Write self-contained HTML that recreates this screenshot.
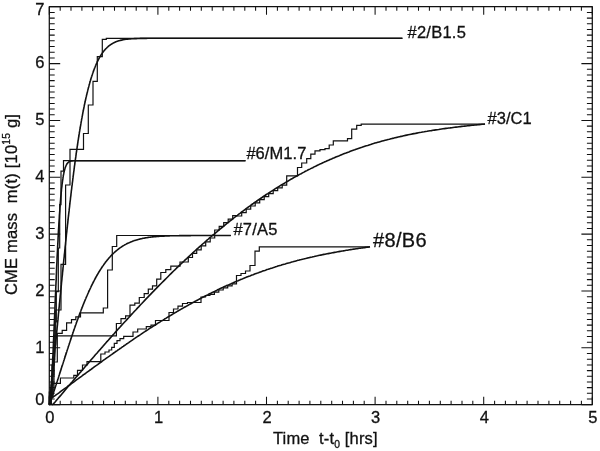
<!DOCTYPE html>
<html lang="en"><head><meta charset="utf-8"><title>CME mass m(t)</title>
<style>html,body{margin:0;padding:0;background:#fff}body{width:600px;height:451px;overflow:hidden}svg{display:block}</style>
</head><body>
<svg width="600" height="451" viewBox="0 0 600 451">
<rect width="600" height="451" fill="#fff"/>
<g fill="none" stroke="#111" stroke-linejoin="miter" stroke-linecap="butt">
<rect x="49.3" y="6.7" width="543" height="398" stroke-width="1.25" stroke-linejoin="round"/>
<path stroke-width="1.05" d="M49.3 404.7 v-8M49.3 6.7 v8M60.2 404.7 v-4M60.2 6.7 v4M71 404.7 v-4M71 6.7 v4M81.9 404.7 v-4M81.9 6.7 v4M92.7 404.7 v-4M92.7 6.7 v4M103.6 404.7 v-4M103.6 6.7 v4M114.5 404.7 v-4M114.5 6.7 v4M125.3 404.7 v-4M125.3 6.7 v4M136.2 404.7 v-4M136.2 6.7 v4M147 404.7 v-4M147 6.7 v4M157.9 404.7 v-8M157.9 6.7 v8M168.8 404.7 v-4M168.8 6.7 v4M179.6 404.7 v-4M179.6 6.7 v4M190.5 404.7 v-4M190.5 6.7 v4M201.3 404.7 v-4M201.3 6.7 v4M212.2 404.7 v-4M212.2 6.7 v4M223.1 404.7 v-4M223.1 6.7 v4M233.9 404.7 v-4M233.9 6.7 v4M244.8 404.7 v-4M244.8 6.7 v4M255.6 404.7 v-4M255.6 6.7 v4M266.5 404.7 v-8M266.5 6.7 v8M277.4 404.7 v-4M277.4 6.7 v4M288.2 404.7 v-4M288.2 6.7 v4M299.1 404.7 v-4M299.1 6.7 v4M309.9 404.7 v-4M309.9 6.7 v4M320.8 404.7 v-4M320.8 6.7 v4M331.7 404.7 v-4M331.7 6.7 v4M342.5 404.7 v-4M342.5 6.7 v4M353.4 404.7 v-4M353.4 6.7 v4M364.2 404.7 v-4M364.2 6.7 v4M375.1 404.7 v-8M375.1 6.7 v8M386 404.7 v-4M386 6.7 v4M396.8 404.7 v-4M396.8 6.7 v4M407.7 404.7 v-4M407.7 6.7 v4M418.5 404.7 v-4M418.5 6.7 v4M429.4 404.7 v-4M429.4 6.7 v4M440.3 404.7 v-4M440.3 6.7 v4M451.1 404.7 v-4M451.1 6.7 v4M462 404.7 v-4M462 6.7 v4M472.8 404.7 v-4M472.8 6.7 v4M483.7 404.7 v-8M483.7 6.7 v8M494.6 404.7 v-4M494.6 6.7 v4M505.4 404.7 v-4M505.4 6.7 v4M516.3 404.7 v-4M516.3 6.7 v4M527.1 404.7 v-4M527.1 6.7 v4M538 404.7 v-4M538 6.7 v4M548.9 404.7 v-4M548.9 6.7 v4M559.7 404.7 v-4M559.7 6.7 v4M570.6 404.7 v-4M570.6 6.7 v4M581.4 404.7 v-4M581.4 6.7 v4M592.3 404.7 v-8M592.3 6.7 v8M49.3 404.7 h10.9M592.3 404.7 h-10.9M49.3 399 h5.4M592.3 399 h-5.4M49.3 393.3 h5.4M592.3 393.3 h-5.4M49.3 387.6 h5.4M592.3 387.6 h-5.4M49.3 382 h5.4M592.3 382 h-5.4M49.3 376.3 h5.4M592.3 376.3 h-5.4M49.3 370.6 h5.4M592.3 370.6 h-5.4M49.3 364.9 h5.4M592.3 364.9 h-5.4M49.3 359.2 h5.4M592.3 359.2 h-5.4M49.3 353.5 h5.4M592.3 353.5 h-5.4M49.3 347.8 h10.9M592.3 347.8 h-10.9M49.3 342.2 h5.4M592.3 342.2 h-5.4M49.3 336.5 h5.4M592.3 336.5 h-5.4M49.3 330.8 h5.4M592.3 330.8 h-5.4M49.3 325.1 h5.4M592.3 325.1 h-5.4M49.3 319.4 h5.4M592.3 319.4 h-5.4M49.3 313.7 h5.4M592.3 313.7 h-5.4M49.3 308 h5.4M592.3 308 h-5.4M49.3 302.4 h5.4M592.3 302.4 h-5.4M49.3 296.7 h5.4M592.3 296.7 h-5.4M49.3 291 h10.9M592.3 291 h-10.9M49.3 285.3 h5.4M592.3 285.3 h-5.4M49.3 279.6 h5.4M592.3 279.6 h-5.4M49.3 273.9 h5.4M592.3 273.9 h-5.4M49.3 268.2 h5.4M592.3 268.2 h-5.4M49.3 262.6 h5.4M592.3 262.6 h-5.4M49.3 256.9 h5.4M592.3 256.9 h-5.4M49.3 251.2 h5.4M592.3 251.2 h-5.4M49.3 245.5 h5.4M592.3 245.5 h-5.4M49.3 239.8 h5.4M592.3 239.8 h-5.4M49.3 234.1 h10.9M592.3 234.1 h-10.9M49.3 228.4 h5.4M592.3 228.4 h-5.4M49.3 222.8 h5.4M592.3 222.8 h-5.4M49.3 217.1 h5.4M592.3 217.1 h-5.4M49.3 211.4 h5.4M592.3 211.4 h-5.4M49.3 205.7 h5.4M592.3 205.7 h-5.4M49.3 200 h5.4M592.3 200 h-5.4M49.3 194.3 h5.4M592.3 194.3 h-5.4M49.3 188.6 h5.4M592.3 188.6 h-5.4M49.3 183 h5.4M592.3 183 h-5.4M49.3 177.3 h10.9M592.3 177.3 h-10.9M49.3 171.6 h5.4M592.3 171.6 h-5.4M49.3 165.9 h5.4M592.3 165.9 h-5.4M49.3 160.2 h5.4M592.3 160.2 h-5.4M49.3 154.5 h5.4M592.3 154.5 h-5.4M49.3 148.8 h5.4M592.3 148.8 h-5.4M49.3 143.2 h5.4M592.3 143.2 h-5.4M49.3 137.5 h5.4M592.3 137.5 h-5.4M49.3 131.8 h5.4M592.3 131.8 h-5.4M49.3 126.1 h5.4M592.3 126.1 h-5.4M49.3 120.4 h10.9M592.3 120.4 h-10.9M49.3 114.7 h5.4M592.3 114.7 h-5.4M49.3 109 h5.4M592.3 109 h-5.4M49.3 103.4 h5.4M592.3 103.4 h-5.4M49.3 97.7 h5.4M592.3 97.7 h-5.4M49.3 92 h5.4M592.3 92 h-5.4M49.3 86.3 h5.4M592.3 86.3 h-5.4M49.3 80.6 h5.4M592.3 80.6 h-5.4M49.3 74.9 h5.4M592.3 74.9 h-5.4M49.3 69.2 h5.4M592.3 69.2 h-5.4M49.3 63.6 h10.9M592.3 63.6 h-10.9M49.3 57.9 h5.4M592.3 57.9 h-5.4M49.3 52.2 h5.4M592.3 52.2 h-5.4M49.3 46.5 h5.4M592.3 46.5 h-5.4M49.3 40.8 h5.4M592.3 40.8 h-5.4M49.3 35.1 h5.4M592.3 35.1 h-5.4M49.3 29.4 h5.4M592.3 29.4 h-5.4M49.3 23.8 h5.4M592.3 23.8 h-5.4M49.3 18.1 h5.4M592.3 18.1 h-5.4M49.3 12.4 h5.4M592.3 12.4 h-5.4M49.3 6.7 h10.9M592.3 6.7 h-10.9"/>
<path stroke-width="1.2" d="M402.4 38.3 L106.3 38.3 L106.3 39.3 L102.3 39.3 L102.3 56.7 L97.3 56.7 L97.3 81.3 L93 81.3 L93 105 L88.3 105 L88.3 133.5 L83.5 133.5 L83.5 149.3 L70 149.3 L70 185 L65.6 185 L65.6 264.4 L61 264.4 L61 310 L55.7 310 L55.7 345 L54 345 L54 375 L52.2 375 L52.2 395 L50.5 395 L50.5 404.7"/>
<path stroke-width="1.2" d="M245.5 160.7 L63.5 160.7 L63.5 171.2 L61 171.2 L61 204.7 L59.7 204.7 L59.7 248 L58.3 248 L58.3 291.7 L56.3 291.7 L56.3 322 L54.8 322 L54.8 360 L53 360 L53 385 L51.2 385 L51.2 404.7"/>
<path stroke-width="1.2" d="M230.8 235.5 L116.7 235.5 L116.7 246.5 L112.3 246.5 L112.3 270 L107.6 270 L107.6 308 L103.3 308 L103.3 312.8 L80.5 312.8 L80.5 316.8 L75.8 316.8 L75.8 319.7 L71.5 319.7 L71.5 322.8 L66.6 322.8 L66.6 330.4 L62.2 330.4 L62.2 333.4 L57.3 333.4 L57.3 362 L54 362 L54 390 L51.3 390 L51.3 404.7"/>
<path stroke-width="1.2" d="M49.3 404.7 L49.3 392 L52 392 L52 365 L54 365 L54 335.8 L116.4 335.8 L116.4 323.5 L121 323.5 L121 318.6 L125.6 318.6 L125.6 315.9 L130 315.9 L130 305.1 L134.8 305.1 L134.8 303.2 L139.3 303.2 L139.3 297.5 L144.2 297.5 L144.2 293.7 L148.3 293.7 L148.3 289.2 L152.5 289.2 L152.5 285.8 L156.7 285.8 L156.7 279.2 L160.8 279.2 L160.8 272.5 L165.8 272.5 L165.8 269.7 L170.8 269.7 L170.8 266.2 L180 266.2 L180 262 L188.3 262 L188.3 257.5 L192.5 257.5 L192.5 253.3 L196.7 253.3 L196.7 250 L196.7 249.9 L201.2 249.9 L201.2 245.9 L205.7 245.9 L205.7 241.9 L210.2 241.9 L210.2 238 L214.7 238 L214.7 230 L219.2 230 L219.2 226.3 L223.7 226.3 L223.7 222.7 L228.2 222.7 L228.2 219.1 L232.7 219.1 L232.7 215.6 L237.2 215.6 L237.2 216 L241.7 216 L241.7 212.6 L246.2 212.6 L246.2 209.2 L250.7 209.2 L250.7 206 L255.2 206 L255.2 202.8 L259.7 202.8 L259.7 199.6 L264.2 199.6 L264.2 196.6 L268.7 196.6 L268.7 193.6 L273.2 193.6 L273.2 190.7 L277.7 190.7 L277.7 187.8 L282.2 187.8 L282.2 185.1 L286.7 185.1 L286.7 175.8 L297.5 175.8 L297.5 167.5 L301.7 167.5 L301.7 163 L306.7 163 L306.7 158.7 L310.8 158.7 L310.8 154.2 L315 154.2 L315 150.8 L320 150.8 L320 149.7 L325 149.7 L325 148.7 L329.2 148.7 L329.2 145 L333.3 145 L333.3 140.8 L347.5 140.8 L347.5 138.7 L351.7 138.7 L351.7 129.2 L356.7 129.2 L356.7 125.3 L361.2 125.3 L361.2 124.2 L485 124.2"/>
<path stroke-width="1.2" d="M49.3 404.7 L49.3 396 L53 396 L53 383.3 L60.4 383.3 L60.4 378 L73.8 378 L73.8 375.4 L77.5 375.4 L77.5 370.4 L82.5 370.4 L82.5 365 L87 365 L87 361.7 L100.8 361.7 L100.8 354 L105 354 L105 352 L109 352 L109 350 L111.7 350 L111.7 347.3 L114.3 347.3 L114.3 343.3 L117 343.3 L117 340.7 L120 340.7 L120 338.7 L123.7 338.7 L123.7 336.3 L133 336.3 L133 332 L137.7 332 L137.7 329 L146.3 329 L146.3 326.7 L151 326.7 L151 325.2 L155.5 325.2 L155.5 320.5 L169 320.5 L169 312.5 L173.5 312.5 L173.5 309 L178 309 L178 306.2 L182.5 306.2 L182.5 303.5 L187.5 303.5 L187.5 302.5 L201 302.5 L201 297 L205.5 297 L205.5 295.5 L209.9 295.5 L209.9 294.3 L214.4 294.3 L214.4 292.1 L218.8 292.1 L218.8 290 L223.2 290 L223.2 287.9 L227.7 287.9 L227.7 285.9 L232.1 285.9 L232.1 283.9 L236.5 283.9 L236.5 282 L236.5 282 L236.5 275.5 L241 275.5 L241 273.5 L245.5 273.5 L245.5 271 L250 271 L250 265.5 L255 265.5 L255 251.2 L259.3 251.2 L259.3 246.9 L370 246.9"/>
<path stroke-width="1.6" stroke-linejoin="round" d="M49.3 404.7 L49.5 403.2 L49.6 401.7 L49.8 400.2 L50 398.7 L50.1 397.2 L50.3 395.7 L50.4 394.2 L50.6 392.6 L50.8 391.1 L50.9 389.5 L51.1 388 L51.3 386.4 L51.4 384.9 L51.6 383.3 L51.7 381.7 L51.9 380.2 L52.1 378.6 L52.2 377 L52.4 375.4 L52.6 373.8 L52.7 372.2 L52.9 370.6 L53.1 369 L53.2 367.4 L53.4 365.8 L53.5 364.1 L53.7 362.5 L53.9 360.9 L54 359.2 L54.2 357.6 L54.4 356 L54.5 354.3 L54.7 352.7 L54.9 351 L55 349.4 L55.2 347.7 L55.3 346.1 L55.5 344.4 L55.7 342.8 L55.8 341.1 L56 339.5 L56.2 337.8 L56.3 336.1 L56.5 334.5 L56.6 332.8 L56.8 331.1 L57 329.5 L57.1 327.8 L57.3 326.1 L57.5 324.4 L57.6 322.8 L57.8 321.1 L58 319.4 L58.1 317.7 L58.3 316.1 L58.4 314.4 L58.6 312.7 L58.8 311.1 L58.9 309.4 L59.1 307.7 L59.3 306 L59.4 304.4 L59.6 302.7 L59.8 301 L59.9 299.4 L60.1 297.7 L60.2 296 L60.4 294.4 L60.6 292.7 L60.7 291 L60.9 289.4 L61.1 287.7 L61.2 286.1 L61.4 284.4 L61.5 282.8 L61.7 281.1 L61.9 279.5 L62 277.8 L62.2 276.2 L62.4 274.6 L62.5 272.9 L62.7 271.3 L62.9 269.7 L63 268 L63.2 266.4 L63.3 264.8 L63.5 263.2 L63.7 261.6 L63.8 260 L64 258.4 L64.2 256.8 L64.3 255.2 L64.5 253.6 L64.7 252 L64.8 250.4 L65 248.8 L65.1 247.2 L65.3 245.7 L65.5 244.1 L65.6 242.5 L65.8 241 L66 239.4 L66.1 237.9 L66.3 236.3 L66.4 234.8 L66.6 233.2 L66.8 231.7 L66.9 230.2 L67.1 228.7 L67.3 227.2 L67.4 225.6 L67.6 224.1 L67.8 222.6 L67.9 221.1 L68.1 219.7 L68.2 218.2 L68.4 216.7 L68.6 215.2 L68.7 213.8 L68.9 212.3 L69.1 210.9 L69.2 209.4 L69.4 208 L69.6 206.5 L69.7 205.1 L69.9 203.7 L70 202.3 L70.2 200.9 L70.4 199.5 L70.5 198.1 L70.7 196.7 L70.9 195.3 L71 193.9 L71.2 192.5 L71.3 191.2 L71.5 189.8 L71.7 188.5 L71.8 187.1 L72 185.8 L72.2 184.4 L72.3 183.1 L72.5 181.8 L72.7 180.5 L72.8 179.2 L73 177.9 L73.1 176.6 L73.3 175.3 L73.5 174 L73.6 172.8 L73.8 171.5 L74 170.3 L74.1 169 L74.3 167.8 L74.4 166.5 L74.6 165.3 L74.8 164.1 L74.9 162.9 L75.1 161.7 L75.3 160.5 L75.4 159.3 L75.6 158.1 L75.8 156.9 L75.9 155.8 L76.1 154.6 L76.2 153.4 L76.4 152.3 L76.6 151.2 L76.7 150 L76.9 148.9 L77.1 147.8 L77.2 146.7 L77.4 145.6 L77.6 144.5 L77.7 143.4 L77.9 142.3 L78 141.2 L78.2 140.2 L78.4 139.1 L78.5 138.1 L78.7 137 L78.9 136 L79 135 L79.2 133.9 L79.3 132.9 L79.5 131.9 L79.7 130.9 L79.8 129.9 L80 129 L80.2 128 L80.3 127 L80.5 126 L80.7 125.1 L80.8 124.1 L81 123.2 L81.1 122.3 L81.3 121.3 L81.5 120.4 L81.6 119.5 L81.8 118.6 L82 117.7 L82.1 116.8 L82.3 115.9 L82.5 115.1 L82.6 114.2 L82.8 113.3 L82.9 112.5 L83.1 111.6 L83.3 110.8 L83.4 110 L83.6 109.1 L83.8 108.3 L83.9 107.5 L84.1 106.7 L84.2 105.9 L84.4 105.1 L84.6 104.3 L84.7 103.6 L84.9 102.8 L85.1 102 L85.2 101.3 L85.4 100.5 L85.6 99.8 L85.7 99 L85.9 98.3 L86 97.6 L86.2 96.9 L86.4 96.2 L86.5 95.5 L86.7 94.8 L86.9 94.1 L87 93.4 L87.2 92.7 L87.4 92 L87.5 91.4 L87.7 90.7 L87.8 90.1 L88 89.4 L88.2 88.8 L88.3 88.1 L88.5 87.5 L88.7 86.9 L88.8 86.3 L89 85.7 L89.1 85.1 L89.3 84.5 L89.5 83.9 L89.6 83.3 L89.8 82.7 L90 82.1 L90.1 81.6 L90.3 81 L90.5 80.5 L90.6 79.9 L90.8 79.4 L90.9 78.8 L91.1 78.3 L91.3 77.8 L91.4 77.2 L91.6 76.7 L91.8 76.2 L91.9 75.7 L92.1 75.2 L92.3 74.7 L92.4 74.2 L92.6 73.7 L92.7 73.3 L92.9 72.8 L93.1 72.3 L93.2 71.9 L93.4 71.4 L93.6 70.9 L93.7 70.5 L93.9 70.1 L94 69.6 L94.2 69.2 L94.4 68.8 L94.5 68.3 L94.7 67.9 L94.9 67.5 L95 67.1 L95.2 66.7 L95.4 66.3 L95.5 65.9 L95.7 65.5 L95.8 65.1 L96 64.7 L96.2 64.4 L96.3 64 L96.5 63.6 L96.7 63.2 L96.8 62.9 L97 62.5 L97.1 62.2 L97.3 61.8 L97.5 61.5 L97.6 61.2 L97.8 60.8 L98 60.5 L98.1 60.2 L98.3 59.8 L98.5 59.5 L98.6 59.2 L98.8 58.9 L98.9 58.6 L99.1 58.3 L99.3 58 L99.4 57.7 L99.6 57.4 L99.8 57.1 L99.9 56.8 L100.1 56.6 L100.3 56.3 L100.4 56 L100.6 55.7 L100.7 55.5 L100.9 55.2 L101.1 55 L101.2 54.7 L101.4 54.4 L101.6 54.2 L101.7 54 L101.9 53.7 L102 53.5 L102.2 53.2 L102.4 53 L102.5 52.8 L102.7 52.5 L102.9 52.3 L103 52.1 L103.2 51.9 L103.4 51.7 L103.5 51.5 L103.7 51.2 L103.8 51 L104 50.8 L104.2 50.6 L104.3 50.4 L104.5 50.2 L104.7 50.1 L104.8 49.9 L105 49.7 L105.2 49.5 L105.3 49.3 L105.5 49.1 L105.6 49 L105.8 48.8 L106 48.6 L106.1 48.4 L106.3 48.3 L106.5 48.1 L106.6 47.9 L106.8 47.8 L106.9 47.6 L107.1 47.5 L107.3 47.3 L107.4 47.2 L107.6 47 L107.8 46.9 L107.9 46.7 L108.1 46.6 L108.3 46.4 L108.4 46.3 L108.6 46.2 L108.7 46 L108.9 45.9 L109.1 45.8 L109.2 45.7 L109.4 45.5 L109.6 45.4 L109.7 45.3 L109.9 45.2 L110.1 45 L110.2 44.9 L110.4 44.8 L110.5 44.7 L110.7 44.6 L110.9 44.5 L111 44.4 L111.2 44.3 L111.4 44.2 L111.5 44.1 L111.7 44 L111.8 43.9 L112 43.8 L112.2 43.7 L112.3 43.6 L112.5 43.5 L112.7 43.4 L112.8 43.3 L113 43.2 L113.2 43.1 L113.3 43 L113.5 42.9 L113.6 42.9 L113.8 42.8 L114 42.7 L114.1 42.6 L114.3 42.5 L114.5 42.5 L115.9 41.8 L117.4 41.3 L118.8 40.8 L120.2 40.4 L121.7 40.1 L123.1 39.8 L124.6 39.5 L126 39.3 L127.5 39.2 L128.9 39 L130.4 38.9 L131.8 38.8 L133.3 38.7 L134.7 38.6 L136.2 38.6 L137.6 38.5 L139.1 38.5 L140.5 38.4 L142 38.4 L143.4 38.4 L144.8 38.4 L146.3 38.4 L147.7 38.3 L149.2 38.3 L150.6 38.3 L152.1 38.3 L153.5 38.3 L155 38.3 L156.4 38.3 L157.9 38.3 L159.3 38.3 L160.8 38.3 L162.2 38.3 L163.7 38.3 L165.1 38.3 L166.5 38.3 L168 38.3 L169.4 38.3 L170.9 38.3 L172.3 38.3 L173.8 38.3 L175.2 38.3 L176.7 38.3 L178.1 38.3 L179.6 38.3 L181 38.3 L182.5 38.3 L183.9 38.3 L185.4 38.3 L186.8 38.3 L188.3 38.3 L189.7 38.3 L191.1 38.3 L192.6 38.3 L194 38.3 L195.5 38.3 L196.9 38.3 L198.4 38.3 L199.8 38.3 L201.3 38.3 L202.7 38.3 L204.2 38.3 L205.6 38.3 L207.1 38.3 L208.5 38.3 L210 38.3 L211.4 38.3 L212.9 38.3 L214.3 38.3 L215.7 38.3 L217.2 38.3 L218.6 38.3 L220.1 38.3 L221.5 38.3 L223 38.3 L224.4 38.3 L225.9 38.3 L227.3 38.3 L228.8 38.3 L230.2 38.3 L231.7 38.3 L233.1 38.3 L234.6 38.3 L236 38.3 L237.4 38.3 L238.9 38.3 L240.3 38.3 L241.8 38.3 L243.2 38.3 L244.7 38.3 L246.1 38.3 L247.6 38.3 L249 38.3 L250.5 38.3 L251.9 38.3 L253.4 38.3 L254.8 38.3 L256.3 38.3 L257.7 38.3 L259.2 38.3 L260.6 38.3 L262 38.3 L263.5 38.3 L264.9 38.3 L266.4 38.3 L267.8 38.3 L269.3 38.3 L270.7 38.3 L272.2 38.3 L273.6 38.3 L275.1 38.3 L276.5 38.3 L278 38.3 L279.4 38.3 L280.9 38.3 L282.3 38.3 L283.8 38.3 L285.2 38.3 L286.6 38.3 L288.1 38.3 L289.5 38.3 L291 38.3 L292.4 38.3 L293.9 38.3 L295.3 38.3 L296.8 38.3 L298.2 38.3 L299.7 38.3 L301.1 38.3 L302.6 38.3 L304 38.3 L305.5 38.3 L306.9 38.3 L308.3 38.3 L309.8 38.3 L311.2 38.3 L312.7 38.3 L314.1 38.3 L315.6 38.3 L317 38.3 L318.5 38.3 L319.9 38.3 L321.4 38.3 L322.8 38.3 L324.3 38.3 L325.7 38.3 L327.2 38.3 L328.6 38.3 L330.1 38.3 L331.5 38.3 L332.9 38.3 L334.4 38.3 L335.8 38.3 L337.3 38.3 L338.7 38.3 L340.2 38.3 L341.6 38.3 L343.1 38.3 L344.5 38.3 L346 38.3 L347.4 38.3 L348.9 38.3 L350.3 38.3 L351.8 38.3 L353.2 38.3 L354.7 38.3 L356.1 38.3 L357.5 38.3 L359 38.3 L360.4 38.3 L361.9 38.3 L363.3 38.3 L364.8 38.3 L366.2 38.3 L367.7 38.3 L369.1 38.3 L370.6 38.3 L372 38.3 L373.5 38.3 L374.9 38.3 L376.4 38.3 L377.8 38.3 L379.2 38.3 L380.7 38.3 L382.1 38.3 L383.6 38.3 L385 38.3 L386.5 38.3 L387.9 38.3 L389.4 38.3 L390.8 38.3 L392.3 38.3 L393.7 38.3 L395.2 38.3 L396.6 38.3 L398.1 38.3 L399.5 38.3 L401 38.3 L402.4 38.3"/>
<path stroke-width="1.6" stroke-linejoin="round" d="M49.3 404.7 L49.5 404.7 L49.6 404.2 L49.8 403.1 L50 401.8 L50.1 400.4 L50.3 398.8 L50.4 397.1 L50.6 395.2 L50.8 393.2 L50.9 391.1 L51.1 388.8 L51.3 386.3 L51.4 383.8 L51.6 381.1 L51.7 378.3 L51.9 375.4 L52.1 372.4 L52.2 369.2 L52.4 366 L52.6 362.7 L52.7 359.3 L52.9 355.9 L53.1 352.3 L53.2 348.7 L53.4 345 L53.5 341.3 L53.7 337.5 L53.9 333.7 L54 329.9 L54.2 326 L54.4 322.1 L54.5 318.2 L54.7 314.3 L54.9 310.4 L55 306.4 L55.2 302.5 L55.3 298.6 L55.5 294.7 L55.7 290.8 L55.8 287 L56 283.1 L56.2 279.4 L56.3 275.6 L56.5 271.9 L56.6 268.2 L56.8 264.6 L57 261.1 L57.1 257.5 L57.3 254.1 L57.5 250.7 L57.6 247.4 L57.8 244.1 L58 240.9 L58.1 237.8 L58.3 234.8 L58.4 231.8 L58.6 228.9 L58.8 226 L58.9 223.3 L59.1 220.6 L59.3 218 L59.4 215.4 L59.6 213 L59.8 210.6 L59.9 208.3 L60.1 206.1 L60.2 203.9 L60.4 201.8 L60.6 199.8 L60.7 197.9 L60.9 196 L61.1 194.2 L61.2 192.5 L61.4 190.8 L61.5 189.2 L61.7 187.7 L61.9 186.3 L62 184.9 L62.2 183.5 L62.4 182.2 L62.5 181 L62.7 179.9 L62.9 178.7 L63 177.7 L63.2 176.7 L63.3 175.7 L63.5 174.8 L63.7 173.9 L63.8 173.1 L64 172.3 L64.2 171.6 L64.3 170.9 L64.5 170.3 L64.7 169.6 L64.8 169 L65 168.5 L65.1 168 L65.3 167.5 L65.5 167 L65.6 166.6 L65.8 166.2 L66 165.8 L66.1 165.4 L66.3 165.1 L66.4 164.8 L66.6 164.5 L66.8 164.2 L66.9 163.9 L67.1 163.7 L67.3 163.5 L67.4 163.3 L67.6 163.1 L67.8 162.9 L67.9 162.7 L68.1 162.6 L68.2 162.4 L68.4 162.3 L68.6 162.1 L68.7 162 L68.9 161.9 L69.1 161.8 L69.2 161.7 L69.4 161.6 L69.6 161.6 L69.7 161.5 L69.9 161.4 L70 161.4 L70.2 161.3 L70.4 161.2 L70.5 161.2 L70.7 161.2 L70.9 161.1 L71 161.1 L71.2 161 L71.3 161 L71.5 161 L71.7 161 L71.8 160.9 L72 160.9 L72.2 160.9 L72.3 160.9 L72.5 160.9 L72.7 160.8 L72.8 160.8 L73 160.8 L73.1 160.8 L73.3 160.8 L73.5 160.8 L73.6 160.8 L73.8 160.8 L74 160.8 L74.1 160.8 L74.3 160.7 L74.4 160.7 L74.6 160.7 L74.8 160.7 L74.9 160.7 L75.1 160.7 L75.3 160.7 L75.4 160.7 L75.6 160.7 L75.8 160.7 L75.9 160.7 L76.1 160.7 L76.2 160.7 L76.4 160.7 L76.6 160.7 L76.7 160.7 L76.9 160.7 L77.1 160.7 L77.2 160.7 L77.4 160.7 L77.6 160.7 L77.7 160.7 L77.9 160.7 L78 160.7 L78.2 160.7 L78.4 160.7 L78.5 160.7 L78.7 160.7 L78.9 160.7 L79 160.7 L79.2 160.7 L79.3 160.7 L79.5 160.7 L79.7 160.7 L79.8 160.7 L80 160.7 L80.2 160.7 L80.3 160.7 L80.5 160.7 L80.7 160.7 L80.8 160.7 L81 160.7 L81.1 160.7 L81.3 160.7 L81.5 160.7 L81.6 160.7 L81.8 160.7 L82 160.7 L82.1 160.7 L82.3 160.7 L82.5 160.7 L82.6 160.7 L82.8 160.7 L82.9 160.7 L83.1 160.7 L83.3 160.7 L83.4 160.7 L83.6 160.7 L83.8 160.7 L83.9 160.7 L84.1 160.7 L84.2 160.7 L84.4 160.7 L84.6 160.7 L84.7 160.7 L84.9 160.7 L85.1 160.7 L85.2 160.7 L85.4 160.7 L85.6 160.7 L85.7 160.7 L85.9 160.7 L86 160.7 L86.2 160.7 L86.4 160.7 L86.5 160.7 L86.7 160.7 L86.9 160.7 L87 160.7 L87.2 160.7 L87.4 160.7 L87.5 160.7 L87.7 160.7 L87.8 160.7 L88 160.7 L88.2 160.7 L88.3 160.7 L88.5 160.7 L88.7 160.7 L88.8 160.7 L89 160.7 L89.1 160.7 L89.3 160.7 L89.5 160.7 L89.6 160.7 L89.8 160.7 L90 160.7 L90.1 160.7 L90.3 160.7 L90.5 160.7 L90.6 160.7 L90.8 160.7 L90.9 160.7 L91.1 160.7 L91.3 160.7 L91.4 160.7 L91.6 160.7 L91.8 160.7 L91.9 160.7 L92.1 160.7 L92.3 160.7 L92.4 160.7 L92.6 160.7 L92.7 160.7 L92.9 160.7 L93.1 160.7 L93.2 160.7 L93.4 160.7 L93.6 160.7 L93.7 160.7 L93.9 160.7 L94 160.7 L94.2 160.7 L94.4 160.7 L94.5 160.7 L94.7 160.7 L94.9 160.7 L95 160.7 L95.2 160.7 L95.4 160.7 L95.5 160.7 L95.7 160.7 L95.8 160.7 L96 160.7 L96.2 160.7 L96.3 160.7 L96.5 160.7 L96.7 160.7 L96.8 160.7 L97 160.7 L97.1 160.7 L97.3 160.7 L97.5 160.7 L97.6 160.7 L97.8 160.7 L98 160.7 L98.1 160.7 L98.3 160.7 L98.5 160.7 L98.6 160.7 L98.8 160.7 L98.9 160.7 L99.1 160.7 L99.3 160.7 L99.4 160.7 L99.6 160.7 L99.8 160.7 L99.9 160.7 L100.1 160.7 L100.3 160.7 L100.4 160.7 L100.6 160.7 L100.7 160.7 L100.9 160.7 L101.1 160.7 L101.2 160.7 L101.4 160.7 L101.6 160.7 L101.7 160.7 L101.9 160.7 L102 160.7 L102.2 160.7 L102.4 160.7 L102.5 160.7 L102.7 160.7 L102.9 160.7 L103 160.7 L103.2 160.7 L103.4 160.7 L103.5 160.7 L103.7 160.7 L103.8 160.7 L104 160.7 L104.2 160.7 L104.3 160.7 L104.5 160.7 L104.7 160.7 L104.8 160.7 L105 160.7 L105.2 160.7 L105.3 160.7 L105.5 160.7 L105.6 160.7 L105.8 160.7 L106 160.7 L106.1 160.7 L106.3 160.7 L106.5 160.7 L106.6 160.7 L106.8 160.7 L106.9 160.7 L107.1 160.7 L107.3 160.7 L107.4 160.7 L107.6 160.7 L107.8 160.7 L107.9 160.7 L108.1 160.7 L108.3 160.7 L108.4 160.7 L108.6 160.7 L108.7 160.7 L108.9 160.7 L109.1 160.7 L109.2 160.7 L109.4 160.7 L109.6 160.7 L109.7 160.7 L109.9 160.7 L110.1 160.7 L110.2 160.7 L110.4 160.7 L110.5 160.7 L110.7 160.7 L110.9 160.7 L111 160.7 L111.2 160.7 L111.4 160.7 L111.5 160.7 L111.7 160.7 L111.8 160.7 L112 160.7 L112.2 160.7 L112.3 160.7 L112.5 160.7 L112.7 160.7 L112.8 160.7 L113 160.7 L113.2 160.7 L113.3 160.7 L113.5 160.7 L113.6 160.7 L113.8 160.7 L114 160.7 L114.1 160.7 L114.3 160.7 L114.5 160.7 L115.1 160.7 L115.8 160.7 L116.4 160.7 L117.1 160.7 L117.8 160.7 L118.4 160.7 L119.1 160.7 L119.7 160.7 L120.4 160.7 L121 160.7 L121.7 160.7 L122.4 160.7 L123 160.7 L123.7 160.7 L124.3 160.7 L125 160.7 L125.7 160.7 L126.3 160.7 L127 160.7 L127.6 160.7 L128.3 160.7 L128.9 160.7 L129.6 160.7 L130.3 160.7 L130.9 160.7 L131.6 160.7 L132.2 160.7 L132.9 160.7 L133.6 160.7 L134.2 160.7 L134.9 160.7 L135.5 160.7 L136.2 160.7 L136.8 160.7 L137.5 160.7 L138.2 160.7 L138.8 160.7 L139.5 160.7 L140.1 160.7 L140.8 160.7 L141.5 160.7 L142.1 160.7 L142.8 160.7 L143.4 160.7 L144.1 160.7 L144.8 160.7 L145.4 160.7 L146.1 160.7 L146.7 160.7 L147.4 160.7 L148 160.7 L148.7 160.7 L149.4 160.7 L150 160.7 L150.7 160.7 L151.3 160.7 L152 160.7 L152.7 160.7 L153.3 160.7 L154 160.7 L154.6 160.7 L155.3 160.7 L155.9 160.7 L156.6 160.7 L157.3 160.7 L157.9 160.7 L158.6 160.7 L159.2 160.7 L159.9 160.7 L160.6 160.7 L161.2 160.7 L161.9 160.7 L162.5 160.7 L163.2 160.7 L163.8 160.7 L164.5 160.7 L165.2 160.7 L165.8 160.7 L166.5 160.7 L167.1 160.7 L167.8 160.7 L168.5 160.7 L169.1 160.7 L169.8 160.7 L170.4 160.7 L171.1 160.7 L171.7 160.7 L172.4 160.7 L173.1 160.7 L173.7 160.7 L174.4 160.7 L175 160.7 L175.7 160.7 L176.4 160.7 L177 160.7 L177.7 160.7 L178.3 160.7 L179 160.7 L179.7 160.7 L180.3 160.7 L181 160.7 L181.6 160.7 L182.3 160.7 L182.9 160.7 L183.6 160.7 L184.3 160.7 L184.9 160.7 L185.6 160.7 L186.2 160.7 L186.9 160.7 L187.6 160.7 L188.2 160.7 L188.9 160.7 L189.5 160.7 L190.2 160.7 L190.8 160.7 L191.5 160.7 L192.2 160.7 L192.8 160.7 L193.5 160.7 L194.1 160.7 L194.8 160.7 L195.5 160.7 L196.1 160.7 L196.8 160.7 L197.4 160.7 L198.1 160.7 L198.7 160.7 L199.4 160.7 L200.1 160.7 L200.7 160.7 L201.4 160.7 L202 160.7 L202.7 160.7 L203.4 160.7 L204 160.7 L204.7 160.7 L205.3 160.7 L206 160.7 L206.6 160.7 L207.3 160.7 L208 160.7 L208.6 160.7 L209.3 160.7 L209.9 160.7 L210.6 160.7 L211.3 160.7 L211.9 160.7 L212.6 160.7 L213.2 160.7 L213.9 160.7 L214.6 160.7 L215.2 160.7 L215.9 160.7 L216.5 160.7 L217.2 160.7 L217.8 160.7 L218.5 160.7 L219.2 160.7 L219.8 160.7 L220.5 160.7 L221.1 160.7 L221.8 160.7 L222.5 160.7 L223.1 160.7 L223.8 160.7 L224.4 160.7 L225.1 160.7 L225.7 160.7 L226.4 160.7 L227.1 160.7 L227.7 160.7 L228.4 160.7 L229 160.7 L229.7 160.7 L230.4 160.7 L231 160.7 L231.7 160.7 L232.3 160.7 L233 160.7 L233.6 160.7 L234.3 160.7 L235 160.7 L235.6 160.7 L236.3 160.7 L236.9 160.7 L237.6 160.7 L238.3 160.7 L238.9 160.7 L239.6 160.7 L240.2 160.7 L240.9 160.7 L241.5 160.7 L242.2 160.7 L242.9 160.7 L243.5 160.7 L244.2 160.7 L244.8 160.7 L245.5 160.7"/>
<path stroke-width="1.6" stroke-linejoin="round" d="M49.3 404.7 L49.5 404.2 L49.6 403.8 L49.8 403.3 L50 402.9 L50.1 402.4 L50.3 401.9 L50.4 401.5 L50.6 401 L50.8 400.5 L50.9 400.1 L51.1 399.6 L51.3 399.1 L51.4 398.7 L51.6 398.2 L51.7 397.7 L51.9 397.2 L52.1 396.8 L52.2 396.3 L52.4 395.8 L52.6 395.3 L52.7 394.8 L52.9 394.4 L53.1 393.9 L53.2 393.4 L53.4 392.9 L53.5 392.4 L53.7 391.9 L53.9 391.4 L54 391 L54.2 390.5 L54.4 390 L54.5 389.5 L54.7 389 L54.9 388.5 L55 388 L55.2 387.5 L55.3 387 L55.5 386.5 L55.7 386 L55.8 385.5 L56 385 L56.2 384.5 L56.3 384 L56.5 383.5 L56.6 383 L56.8 382.5 L57 382 L57.1 381.5 L57.3 381 L57.5 380.5 L57.6 380 L57.8 379.5 L58 379 L58.1 378.5 L58.3 378 L58.4 377.5 L58.6 377 L58.8 376.5 L58.9 376 L59.1 375.5 L59.3 375 L59.4 374.4 L59.6 373.9 L59.8 373.4 L59.9 372.9 L60.1 372.4 L60.2 371.9 L60.4 371.4 L60.6 370.9 L60.7 370.4 L60.9 369.9 L61.1 369.4 L61.2 368.8 L61.4 368.3 L61.5 367.8 L61.7 367.3 L61.9 366.8 L62 366.3 L62.2 365.8 L62.4 365.3 L62.5 364.8 L62.7 364.3 L62.9 363.7 L63 363.2 L63.2 362.7 L63.3 362.2 L63.5 361.7 L63.7 361.2 L63.8 360.7 L64 360.2 L64.2 359.7 L64.3 359.2 L64.5 358.6 L64.7 358.1 L64.8 357.6 L65 357.1 L65.1 356.6 L65.3 356.1 L65.5 355.6 L65.6 355.1 L65.8 354.6 L66 354.1 L66.1 353.6 L66.3 353.1 L66.4 352.6 L66.6 352.1 L66.8 351.5 L66.9 351 L67.1 350.5 L67.3 350 L67.4 349.5 L67.6 349 L67.8 348.5 L67.9 348 L68.1 347.5 L68.2 347 L68.4 346.5 L68.6 346 L68.7 345.5 L68.9 345 L69.1 344.5 L69.2 344 L69.4 343.5 L69.6 343 L69.7 342.5 L69.9 342 L70 341.5 L70.2 341.1 L70.4 340.6 L70.5 340.1 L70.7 339.6 L70.9 339.1 L71 338.6 L71.2 338.1 L71.3 337.6 L71.5 337.1 L71.7 336.6 L71.8 336.2 L72 335.7 L72.2 335.2 L72.3 334.7 L72.5 334.2 L72.7 333.7 L72.8 333.3 L73 332.8 L73.1 332.3 L73.3 331.8 L73.5 331.3 L73.6 330.9 L73.8 330.4 L74 329.9 L74.1 329.4 L74.3 329 L74.4 328.5 L74.6 328 L74.8 327.5 L74.9 327.1 L75.1 326.6 L75.3 326.1 L75.4 325.7 L75.6 325.2 L75.8 324.7 L75.9 324.3 L76.1 323.8 L76.2 323.4 L76.4 322.9 L76.6 322.4 L76.7 322 L76.9 321.5 L77.1 321.1 L77.2 320.6 L77.4 320.2 L77.6 319.7 L77.7 319.3 L77.9 318.8 L78 318.4 L78.2 317.9 L78.4 317.5 L78.5 317 L78.7 316.6 L78.9 316.1 L79 315.7 L79.2 315.2 L79.3 314.8 L79.5 314.4 L79.7 313.9 L79.8 313.5 L80 313.1 L80.2 312.6 L80.3 312.2 L80.5 311.8 L80.7 311.3 L80.8 310.9 L81 310.5 L81.1 310 L81.3 309.6 L81.5 309.2 L81.6 308.8 L81.8 308.4 L82 307.9 L82.1 307.5 L82.3 307.1 L82.5 306.7 L82.6 306.3 L82.8 305.9 L82.9 305.4 L83.1 305 L83.3 304.6 L83.4 304.2 L83.6 303.8 L83.8 303.4 L83.9 303 L84.1 302.6 L84.2 302.2 L84.4 301.8 L84.6 301.4 L84.7 301 L84.9 300.6 L85.1 300.2 L85.2 299.8 L85.4 299.4 L85.6 299 L85.7 298.7 L85.9 298.3 L86 297.9 L86.2 297.5 L86.4 297.1 L86.5 296.7 L86.7 296.4 L86.9 296 L87 295.6 L87.2 295.2 L87.4 294.8 L87.5 294.5 L87.7 294.1 L87.8 293.7 L88 293.4 L88.2 293 L88.3 292.6 L88.5 292.3 L88.7 291.9 L88.8 291.5 L89 291.2 L89.1 290.8 L89.3 290.5 L89.5 290.1 L89.6 289.8 L89.8 289.4 L90 289.1 L90.1 288.7 L90.3 288.4 L90.5 288 L90.6 287.7 L90.8 287.3 L90.9 287 L91.1 286.6 L91.3 286.3 L91.4 286 L91.6 285.6 L91.8 285.3 L91.9 285 L92.1 284.6 L92.3 284.3 L92.4 284 L92.6 283.6 L92.7 283.3 L92.9 283 L93.1 282.7 L93.2 282.3 L93.4 282 L93.6 281.7 L93.7 281.4 L93.9 281.1 L94 280.8 L94.2 280.4 L94.4 280.1 L94.5 279.8 L94.7 279.5 L94.9 279.2 L95 278.9 L95.2 278.6 L95.4 278.3 L95.5 278 L95.7 277.7 L95.8 277.4 L96 277.1 L96.2 276.8 L96.3 276.5 L96.5 276.2 L96.7 275.9 L96.8 275.6 L97 275.4 L97.1 275.1 L97.3 274.8 L97.5 274.5 L97.6 274.2 L97.8 273.9 L98 273.7 L98.1 273.4 L98.3 273.1 L98.5 272.8 L98.6 272.6 L98.8 272.3 L98.9 272 L99.1 271.7 L99.3 271.5 L99.4 271.2 L99.6 270.9 L99.8 270.7 L99.9 270.4 L100.1 270.2 L100.3 269.9 L100.4 269.6 L100.6 269.4 L100.7 269.1 L100.9 268.9 L101.1 268.6 L101.2 268.4 L101.4 268.1 L101.6 267.9 L101.7 267.6 L101.9 267.4 L102 267.1 L102.2 266.9 L102.4 266.7 L102.5 266.4 L102.7 266.2 L102.9 265.9 L103 265.7 L103.2 265.5 L103.4 265.2 L103.5 265 L103.7 264.8 L103.8 264.6 L104 264.3 L104.2 264.1 L104.3 263.9 L104.5 263.6 L104.7 263.4 L104.8 263.2 L105 263 L105.2 262.8 L105.3 262.6 L105.5 262.3 L105.6 262.1 L105.8 261.9 L106 261.7 L106.1 261.5 L106.3 261.3 L106.5 261.1 L106.6 260.9 L106.8 260.7 L106.9 260.5 L107.1 260.3 L107.3 260.1 L107.4 259.8 L107.6 259.7 L107.8 259.5 L107.9 259.3 L108.1 259.1 L108.3 258.9 L108.4 258.7 L108.6 258.5 L108.7 258.3 L108.9 258.1 L109.1 257.9 L109.2 257.7 L109.4 257.5 L109.6 257.4 L109.7 257.2 L109.9 257 L110.1 256.8 L110.2 256.6 L110.4 256.5 L110.5 256.3 L110.7 256.1 L110.9 255.9 L111 255.8 L111.2 255.6 L111.4 255.4 L111.5 255.2 L111.7 255.1 L111.8 254.9 L112 254.7 L112.2 254.6 L112.3 254.4 L112.5 254.2 L112.7 254.1 L112.8 253.9 L113 253.8 L113.2 253.6 L113.3 253.5 L113.5 253.3 L113.6 253.1 L113.8 253 L114 252.8 L114.1 252.7 L114.3 252.5 L114.5 252.4 L115 251.8 L115.6 251.3 L116.2 250.8 L116.8 250.3 L117.4 249.9 L118 249.4 L118.6 249 L119.1 248.5 L119.7 248.1 L120.3 247.7 L120.9 247.3 L121.5 246.9 L122.1 246.5 L122.6 246.1 L123.2 245.8 L123.8 245.4 L124.4 245.1 L125 244.7 L125.6 244.4 L126.2 244.1 L126.7 243.8 L127.3 243.5 L127.9 243.2 L128.5 242.9 L129.1 242.7 L129.7 242.4 L130.2 242.2 L130.8 241.9 L131.4 241.7 L132 241.5 L132.6 241.2 L133.2 241 L133.8 240.8 L134.3 240.6 L134.9 240.4 L135.5 240.2 L136.1 240.1 L136.7 239.9 L137.3 239.7 L137.8 239.6 L138.4 239.4 L139 239.2 L139.6 239.1 L140.2 239 L140.8 238.8 L141.4 238.7 L141.9 238.6 L142.5 238.4 L143.1 238.3 L143.7 238.2 L144.3 238.1 L144.9 238 L145.4 237.9 L146 237.8 L146.6 237.7 L147.2 237.6 L147.8 237.5 L148.4 237.4 L149 237.3 L149.5 237.3 L150.1 237.2 L150.7 237.1 L151.3 237 L151.9 237 L152.5 236.9 L153 236.9 L153.6 236.8 L154.2 236.7 L154.8 236.7 L155.4 236.6 L156 236.6 L156.6 236.5 L157.1 236.5 L157.7 236.4 L158.3 236.4 L158.9 236.4 L159.5 236.3 L160.1 236.3 L160.6 236.2 L161.2 236.2 L161.8 236.2 L162.4 236.1 L163 236.1 L163.6 236.1 L164.2 236.1 L164.7 236 L165.3 236 L165.9 236 L166.5 236 L167.1 235.9 L167.7 235.9 L168.2 235.9 L168.8 235.9 L169.4 235.9 L170 235.8 L170.6 235.8 L171.2 235.8 L171.8 235.8 L172.3 235.8 L172.9 235.8 L173.5 235.8 L174.1 235.7 L174.7 235.7 L175.3 235.7 L175.8 235.7 L176.4 235.7 L177 235.7 L177.6 235.7 L178.2 235.7 L178.8 235.7 L179.4 235.6 L179.9 235.6 L180.5 235.6 L181.1 235.6 L181.7 235.6 L182.3 235.6 L182.9 235.6 L183.4 235.6 L184 235.6 L184.6 235.6 L185.2 235.6 L185.8 235.6 L186.4 235.6 L187 235.6 L187.5 235.6 L188.1 235.6 L188.7 235.6 L189.3 235.6 L189.9 235.6 L190.5 235.6 L191 235.5 L191.6 235.5 L192.2 235.5 L192.8 235.5 L193.4 235.5 L194 235.5 L194.6 235.5 L195.1 235.5 L195.7 235.5 L196.3 235.5 L196.9 235.5 L197.5 235.5 L198.1 235.5 L198.6 235.5 L199.2 235.5 L199.8 235.5 L200.4 235.5 L201 235.5 L201.6 235.5 L202.2 235.5 L202.7 235.5 L203.3 235.5 L203.9 235.5 L204.5 235.5 L205.1 235.5 L205.7 235.5 L206.2 235.5 L206.8 235.5 L207.4 235.5 L208 235.5 L208.6 235.5 L209.2 235.5 L209.8 235.5 L210.3 235.5 L210.9 235.5 L211.5 235.5 L212.1 235.5 L212.7 235.5 L213.3 235.5 L213.8 235.5 L214.4 235.5 L215 235.5 L215.6 235.5 L216.2 235.5 L216.8 235.5 L217.4 235.5 L217.9 235.5 L218.5 235.5 L219.1 235.5 L219.7 235.5 L220.3 235.5 L220.9 235.5 L221.4 235.5 L222 235.5 L222.6 235.5 L223.2 235.5 L223.8 235.5 L224.4 235.5 L225 235.5 L225.5 235.5 L226.1 235.5 L226.7 235.5 L227.3 235.5 L227.9 235.5 L228.5 235.5 L229 235.5 L229.6 235.5 L230.2 235.5 L230.8 235.5"/>
<path stroke-width="1.6" stroke-linejoin="round" d="M52 404.7 L53.4 403.9 L54.9 402.2 L56.3 400.5 L57.8 398.8 L59.2 397.1 L60.7 395.4 L62.1 393.7 L63.6 391.9 L65 390.2 L66.5 388.5 L67.9 386.8 L69.4 385.1 L70.8 383.4 L72.3 381.7 L73.7 380 L75.2 378.3 L76.6 376.6 L78.1 375 L79.5 373.3 L81 371.6 L82.4 369.9 L83.9 368.2 L85.3 366.5 L86.8 364.9 L88.2 363.2 L89.7 361.5 L91.1 359.8 L92.5 358.2 L94 356.5 L95.4 354.8 L96.9 353.2 L98.3 351.5 L99.8 349.9 L101.2 348.2 L102.7 346.6 L104.1 344.9 L105.6 343.3 L107 341.6 L108.5 340 L109.9 338.4 L111.4 336.7 L112.8 335.1 L114.3 333.5 L115.7 331.9 L117.2 330.3 L118.6 328.6 L120.1 327 L121.5 325.4 L123 323.8 L124.4 322.3 L125.9 320.7 L127.3 319.1 L128.8 317.5 L130.2 315.9 L131.6 314.4 L133.1 312.8 L134.5 311.2 L136 309.7 L137.4 308.1 L138.9 306.6 L140.3 305 L141.8 303.5 L143.2 302 L144.7 300.4 L146.1 298.9 L147.6 297.4 L149 295.9 L150.5 294.4 L151.9 292.9 L153.4 291.4 L154.8 289.9 L156.3 288.4 L157.7 286.9 L159.2 285.4 L160.6 284 L162.1 282.5 L163.5 281.1 L165 279.6 L166.4 278.2 L167.9 276.7 L169.3 275.3 L170.7 273.9 L172.2 272.4 L173.6 271 L175.1 269.6 L176.5 268.2 L178 266.8 L179.4 265.4 L180.9 264 L182.3 262.7 L183.8 261.3 L185.2 259.9 L186.7 258.6 L188.1 257.2 L189.6 255.9 L191 254.5 L192.5 253.2 L193.9 251.9 L195.4 250.5 L196.8 249.2 L198.3 247.9 L199.7 246.6 L201.2 245.3 L202.6 244 L204.1 242.8 L205.5 241.5 L207 240.2 L208.4 239 L209.8 237.7 L211.3 236.5 L212.7 235.2 L214.2 234 L215.6 232.8 L217.1 231.6 L218.5 230.4 L220 229.1 L221.4 228 L222.9 226.8 L224.3 225.6 L225.8 224.4 L227.2 223.2 L228.7 222.1 L230.1 220.9 L231.6 219.8 L233 218.7 L234.5 217.5 L235.9 216.4 L237.4 215.3 L238.8 214.2 L240.3 213.1 L241.7 212 L243.2 210.9 L244.6 209.8 L246.1 208.7 L247.5 207.7 L248.9 206.6 L250.4 205.6 L251.8 204.5 L253.3 203.5 L254.7 202.5 L256.2 201.5 L257.6 200.5 L259.1 199.4 L260.5 198.5 L262 197.5 L263.4 196.5 L264.9 195.5 L266.3 194.5 L267.8 193.6 L269.2 192.6 L270.7 191.7 L272.1 190.8 L273.6 189.8 L275 188.9 L276.5 188 L277.9 187.1 L279.4 186.2 L280.8 185.3 L282.3 184.4 L283.7 183.6 L285.2 182.7 L286.6 181.8 L288.1 181 L289.5 180.1 L290.9 179.3 L292.4 178.5 L293.8 177.6 L295.3 176.8 L296.7 176 L298.2 175.2 L299.6 174.4 L301.1 173.7 L302.5 172.9 L304 172.1 L305.4 171.3 L306.9 170.6 L308.3 169.8 L309.8 169.1 L311.2 168.4 L312.7 167.7 L314.1 166.9 L315.6 166.2 L317 165.5 L318.5 164.8 L319.9 164.1 L321.4 163.5 L322.8 162.8 L324.3 162.1 L325.7 161.5 L327.2 160.8 L328.6 160.2 L330 159.5 L331.5 158.9 L332.9 158.3 L334.4 157.7 L335.8 157 L337.3 156.4 L338.7 155.9 L340.2 155.3 L341.6 154.7 L343.1 154.1 L344.5 153.5 L346 153 L347.4 152.4 L348.9 151.9 L350.3 151.3 L351.8 150.8 L353.2 150.3 L354.7 149.8 L356.1 149.2 L357.6 148.7 L359 148.2 L360.5 147.7 L361.9 147.3 L363.4 146.8 L364.8 146.3 L366.3 145.8 L367.7 145.4 L369.1 144.9 L370.6 144.5 L372 144 L373.5 143.6 L374.9 143.1 L376.4 142.7 L377.8 142.3 L379.3 141.9 L380.7 141.5 L382.2 141.1 L383.6 140.7 L385.1 140.3 L386.5 139.9 L388 139.5 L389.4 139.2 L390.9 138.8 L392.3 138.4 L393.8 138.1 L395.2 137.7 L396.7 137.4 L398.1 137 L399.6 136.7 L401 136.4 L402.5 136.1 L403.9 135.7 L405.4 135.4 L406.8 135.1 L408.2 134.8 L409.7 134.5 L411.1 134.2 L412.6 133.9 L414 133.6 L415.5 133.4 L416.9 133.1 L418.4 132.8 L419.8 132.5 L421.3 132.3 L422.7 132 L424.2 131.8 L425.6 131.5 L427.1 131.3 L428.5 131 L430 130.8 L431.4 130.6 L432.9 130.3 L434.3 130.1 L435.8 129.9 L437.2 129.7 L438.7 129.5 L440.1 129.2 L441.6 129 L443 128.8 L444.5 128.6 L445.9 128.4 L447.3 128.2 L448.8 128 L450.2 127.9 L451.7 127.7 L453.1 127.5 L454.6 127.3 L456 127.1 L457.5 127 L458.9 126.8 L460.4 126.6 L461.8 126.4 L463.3 126.3 L464.7 126.1 L466.2 126 L467.6 125.8 L469.1 125.6 L470.5 125.5 L472 125.3 L473.4 125.2 L474.9 125 L476.3 124.9 L477.8 124.7 L479.2 124.6 L480.7 124.5 L482.1 124.3 L483.6 124.2 L485 124"/>
<path stroke-width="1.6" stroke-linejoin="round" d="M49.3 399.8 L50.4 399 L51.4 398.2 L52.5 397.5 L53.6 396.7 L54.7 395.9 L55.7 395.1 L56.8 394.3 L57.9 393.6 L59 392.8 L60 392 L61.1 391.2 L62.2 390.4 L63.2 389.7 L64.3 388.9 L65.4 388.1 L66.5 387.3 L67.5 386.5 L68.6 385.7 L69.7 385 L70.8 384.2 L71.8 383.4 L72.9 382.6 L74 381.8 L75 381 L76.1 380.2 L77.2 379.4 L78.3 378.7 L79.3 377.9 L80.4 377.1 L81.5 376.3 L82.5 375.5 L83.6 374.7 L84.7 374 L85.8 373.2 L86.8 372.4 L87.9 371.6 L89 370.8 L90.1 370 L91.1 369.3 L92.2 368.5 L93.3 367.7 L94.3 366.9 L95.4 366.1 L96.5 365.4 L97.6 364.6 L98.6 363.8 L99.7 363 L100.8 362.3 L101.9 361.5 L102.9 360.7 L104 359.9 L105.1 359.2 L106.1 358.4 L107.2 357.6 L108.3 356.9 L109.4 356.1 L110.4 355.3 L111.5 354.6 L112.6 353.8 L113.7 353 L114.7 352.3 L115.8 351.5 L116.9 350.8 L117.9 350 L119 349.3 L120.1 348.5 L121.2 347.8 L122.2 347 L123.3 346.3 L124.4 345.5 L125.5 344.8 L126.5 344 L127.6 343.3 L128.7 342.6 L129.7 341.8 L130.8 341.1 L131.9 340.4 L133 339.6 L134 338.9 L135.1 338.2 L136.2 337.4 L137.3 336.7 L138.3 336 L139.4 335.3 L140.5 334.6 L141.5 333.9 L142.6 333.1 L143.7 332.4 L144.8 331.7 L145.8 331 L146.9 330.3 L148 329.6 L149 328.9 L150.1 328.2 L151.2 327.5 L152.3 326.8 L153.3 326.1 L154.4 325.5 L155.5 324.8 L156.6 324.1 L157.6 323.4 L158.7 322.7 L159.8 322.1 L160.8 321.4 L161.9 320.7 L163 320.1 L164.1 319.4 L165.1 318.7 L166.2 318.1 L167.3 317.4 L168.4 316.8 L169.4 316.1 L170.5 315.5 L171.6 314.8 L172.6 314.2 L173.7 313.5 L174.8 312.9 L175.9 312.3 L176.9 311.6 L178 311 L179.1 310.4 L180.2 309.7 L181.2 309.1 L182.3 308.5 L183.4 307.9 L184.4 307.3 L185.5 306.7 L186.6 306.1 L187.7 305.5 L188.7 304.9 L189.8 304.3 L190.9 303.7 L192 303.1 L193 302.5 L194.1 301.9 L195.2 301.3 L196.2 300.8 L197.3 300.2 L198.4 299.6 L199.5 299 L200.5 298.5 L201.6 297.9 L202.7 297.3 L203.8 296.8 L204.8 296.2 L205.9 295.7 L207 295.1 L208 294.6 L209.1 294 L210.2 293.5 L211.3 293 L212.3 292.4 L213.4 291.9 L214.5 291.4 L215.5 290.9 L216.6 290.4 L217.7 289.8 L218.8 289.3 L219.8 288.8 L220.9 288.3 L222 287.8 L223.1 287.3 L224.1 286.8 L225.2 286.3 L226.3 285.8 L227.3 285.3 L228.4 284.9 L229.5 284.4 L230.6 283.9 L231.6 283.4 L232.7 283 L233.8 282.5 L234.9 282 L235.9 281.6 L237 281.1 L238.1 280.7 L239.1 280.2 L240.2 279.8 L241.3 279.3 L242.4 278.9 L243.4 278.4 L244.5 278 L245.6 277.6 L246.7 277.1 L247.7 276.7 L248.8 276.3 L249.9 275.9 L250.9 275.5 L252 275.1 L253.1 274.7 L254.2 274.2 L255.2 273.8 L256.3 273.4 L257.4 273.1 L258.5 272.7 L259.5 272.3 L260.6 271.9 L261.7 271.5 L262.7 271.1 L263.8 270.7 L264.9 270.4 L266 270 L267 269.6 L268.1 269.3 L269.2 268.9 L270.3 268.6 L271.3 268.2 L272.4 267.9 L273.5 267.5 L274.5 267.2 L275.6 266.8 L276.7 266.5 L277.8 266.1 L278.8 265.8 L279.9 265.5 L281 265.2 L282 264.8 L283.1 264.5 L284.2 264.2 L285.3 263.9 L286.3 263.6 L287.4 263.3 L288.5 263 L289.6 262.7 L290.6 262.4 L291.7 262.1 L292.8 261.8 L293.8 261.5 L294.9 261.2 L296 260.9 L297.1 260.6 L298.1 260.3 L299.2 260.1 L300.3 259.8 L301.4 259.5 L302.4 259.2 L303.5 259 L304.6 258.7 L305.6 258.5 L306.7 258.2 L307.8 257.9 L308.9 257.7 L309.9 257.4 L311 257.2 L312.1 257 L313.2 256.7 L314.2 256.5 L315.3 256.2 L316.4 256 L317.4 255.8 L318.5 255.5 L319.6 255.3 L320.7 255.1 L321.7 254.9 L322.8 254.6 L323.9 254.4 L325 254.2 L326 254 L327.1 253.8 L328.2 253.6 L329.2 253.4 L330.3 253.2 L331.4 253 L332.5 252.8 L333.5 252.6 L334.6 252.4 L335.7 252.2 L336.8 252 L337.8 251.8 L338.9 251.6 L340 251.4 L341 251.2 L342.1 251 L343.2 250.9 L344.3 250.7 L345.3 250.5 L346.4 250.3 L347.5 250.2 L348.5 250 L349.6 249.8 L350.7 249.6 L351.8 249.5 L352.8 249.3 L353.9 249.1 L355 249 L356.1 248.8 L357.1 248.7 L358.2 248.5 L359.3 248.3 L360.3 248.2 L361.4 248 L362.5 247.9 L363.6 247.7 L364.6 247.6 L365.7 247.4 L366.8 247.3 L367.9 247.1 L368.9 247 L370 246.8"/>
</g>
<g font-family="'Liberation Sans', Arial, Helvetica, sans-serif" font-size="16.5" fill="#111" stroke="#111" stroke-width="0.3">
<text x="49.9" y="422.6" text-anchor="middle">0</text>
<text x="158.5" y="422.6" text-anchor="middle">1</text>
<text x="267.1" y="422.6" text-anchor="middle">2</text>
<text x="375.7" y="422.6" text-anchor="middle">3</text>
<text x="484.3" y="422.6" text-anchor="middle">4</text>
<text x="592.9" y="422.6" text-anchor="middle">5</text>
<text x="44.5" y="405.2" text-anchor="end">0</text>
<text x="44.5" y="352.6" text-anchor="end">1</text>
<text x="44.5" y="295.8" text-anchor="end">2</text>
<text x="44.5" y="238.9" text-anchor="end">3</text>
<text x="44.5" y="182.1" text-anchor="end">4</text>
<text x="44.5" y="125.2" text-anchor="end">5</text>
<text x="44.5" y="68.4" text-anchor="end">6</text>
<text x="44.5" y="15" text-anchor="end">7</text>
<text x="273" y="443.6" xml:space="preserve" letter-spacing="0.15">Time  t-t<tspan font-size="10.3" dy="4.2">0</tspan><tspan dy="-4.2"> [hrs]</tspan></text>
<text transform="translate(17.2 295) rotate(-90)" xml:space="preserve" letter-spacing="0.2">CME mass  m(t) [10<tspan font-size="10.3" dy="-7">15</tspan><tspan dy="7"> g]</tspan></text>
<text x="407.5" y="38.2" letter-spacing="0.25">#2/B1.5</text>
<text x="246.4" y="158.6" letter-spacing="0.05">#6/M1.7</text>
<text x="487.6" y="124" >#3/C1</text>
<text x="233.4" y="235.2" letter-spacing="0.2">#7/A5</text>
<text x="373.1" y="247" font-size="20" letter-spacing="0.3">#8/B6</text>
</g>
</svg>
</body></html>
